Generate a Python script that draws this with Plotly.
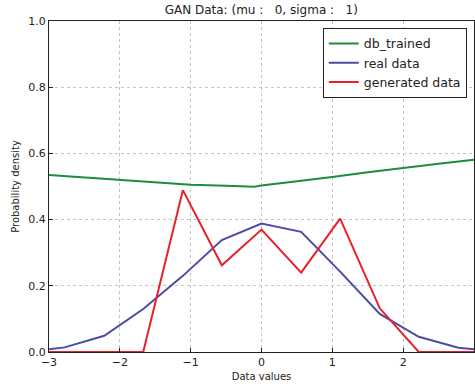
import plotly.graph_objects as go

# db_trained curve
db_x = [-3.0, -2.5, -2.0, -1.5, -1.0, -0.5, -0.1, 0.0, 0.5, 1.0, 1.5, 2.0, 2.5, 3.0]
db_y = [0.535, 0.527, 0.519, 0.511, 0.505, 0.502, 0.499, 0.503, 0.515, 0.529, 0.543, 0.557, 0.569, 0.581]

# real data
real_x = [-3.0, -2.78, -2.22, -1.67, -1.11, -0.56, 0.0, 0.56, 1.11, 1.67, 2.22, 2.78, 3.0]
real_y = [0.008, 0.014, 0.049, 0.13, 0.23, 0.338, 0.388, 0.363, 0.243, 0.115, 0.046, 0.013, 0.008]

# generated data
gen_x = [-3.0, -2.78, -2.22, -1.67, -1.11, -0.56, 0.0, 0.56, 1.11, 1.67, 2.22, 2.78, 3.0]
gen_y = [0.0, 0.0, 0.0, 0.0, 0.489, 0.262, 0.37, 0.24, 0.403, 0.132, 0.0, 0.0, 0.0]

x_ticks = [-3, -2, -1, 0, 1, 2, 3]
x_tick_labels = ["\u22123", "\u22122", "\u22121", "0", "1", "2", "3"]
y_ticks = [0.0, 0.2, 0.4, 0.6, 0.8, 1.0]
y_tick_labels = ["0.0", "0.2", "0.4", "0.6", "0.8", "1.0"]

title_text = "GAN Data: (mu :\u00a0\u00a0\u00a00, sigma :\u00a0\u00a0\u00a01)"

fig = go.Figure()
fig.add_trace(go.Scatter(x=db_x, y=db_y, mode="lines", name="db_trained",
                         line=dict(color="#1e8c3a", width=2)))
fig.add_trace(go.Scatter(x=real_x, y=real_y, mode="lines", name="real data",
                         line=dict(color="#4b4ba8", width=2)))
fig.add_trace(go.Scatter(x=gen_x, y=gen_y, mode="lines", name="generated data",
                         line=dict(color="#e8202a", width=2)))

axis_common = dict(showgrid=True, gridcolor="#c4c4c4", griddash="dot", gridwidth=1,
                   showline=True, linecolor="#222222", linewidth=1, mirror=True,
                   ticks="inside", ticklen=4, tickcolor="#222222", zeroline=False,
                   automargin=False,
                   tickfont=dict(family="DejaVu Sans", size=11, color="#222222"))

fig.update_layout(
    width=475, height=389,
    margin=dict(l=49, r=1, t=21, b=37),
    paper_bgcolor="white", plot_bgcolor="white",
    title=dict(text=title_text, x=0.55, xanchor="center",
               y=0.985, yanchor="top",
               font=dict(family="DejaVu Sans", size=12, color="#222222")),
    xaxis=dict(range=[-3, 3], tickvals=x_ticks, ticktext=x_tick_labels,
               title=dict(text="Data values", standoff=4,
                          font=dict(family="DejaVu Sans", size=10, color="#222222")),
               **axis_common),
    yaxis=dict(range=[0, 1.0], tickvals=y_ticks, ticktext=y_tick_labels,
               title=dict(text="Probability density", standoff=6,
                          font=dict(family="DejaVu Sans", size=10, color="#222222")),
               **axis_common),
    legend=dict(x=0.983, y=0.979, xanchor="right", yanchor="top",
                bgcolor="white", bordercolor="#222222", borderwidth=1,
                font=dict(family="DejaVu Sans", size=12.5, color="#222222"),
                tracegroupgap=0, itemwidth=30),
    showlegend=True,
)

fig.write_html("out.html", config={"displayModeBar": False},
               post_script="document.body.style.margin='0';document.body.style.padding='0';document.body.style.overflow='hidden';")
